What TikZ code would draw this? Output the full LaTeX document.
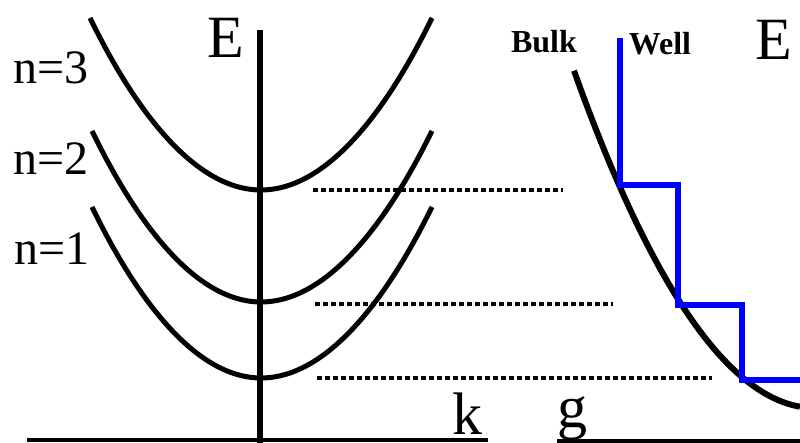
\documentclass[tikz,border=0pt]{standalone}
\usepackage{fontspec}
\setmainfont{Liberation Serif}
\begin{document}
\begin{tikzpicture}[x=0.5pt,y=-0.5pt,
    axis/.style={line width=3pt},
    baseline/.style={line width=2pt},
    band/.style={line width=2.5pt},
    bulkcurve/.style={line width=3pt},
    level/.style={line width=2pt,dash pattern=on 2.5pt off 1.5pt},
    well/.style={line width=3pt,blue},
    big/.style={font=\fontsize{30}{30}\selectfont,inner sep=0pt,anchor=base},
    quantum/.style={font=\fontsize{24}{24}\selectfont,inner sep=0pt,anchor=base},
    tag/.style={font=\fontsize{16}{16}\selectfont\bfseries,inner sep=0pt,anchor=base}]

  \useasboundingbox (0,0) rectangle (800,443);

  % --- axes: E up the middle, k and g along the bottom ---
  \draw[axis] (260,30) -- (260,443);
  \draw[baseline] (27,440) -- (488,440);
  \draw[baseline] (557,441) -- (800,441);

  % --- the three subbands n=1,2,3 ---
  \draw[band] (90,18)  parabola bend (261,190) (432,18);
  \draw[band] (92,131) parabola bend (261,302) (432,131);
  \draw[band] (92,207) parabola bend (261,378) (432,207);

  % --- band edges carried over to the density of states ---
  \draw[level] (313,190) -- (563,190);
  \draw[level] (315,304) -- (613,304);
  \draw[level] (317,378) -- (712,378);

  % --- bulk density of states and the staircase of the well ---
  \draw[bulkcurve] plot[domain=574:800,samples=60] (\x,{408-((\x-815)*0.0762)^2});
  \draw[well] (620,38) |- (678,185) |- (742,305) |- (800,380);

  % --- lettering ---
  \node[big]     (eleft)  at (226,58)  {E};
  \node[big]     (eright) at (774,60)  {E};
  \node[big]     (klab)   at (467,435) {k};
  \node[big]     (glab)   at (572,428) {g};
  \node[quantum] (nthree) at (51,84)   {n=3};
  \node[quantum] (ntwo)   at (51,175)  {n=2};
  \node[quantum] (none)   at (52,265)  {n=1};
  \node[tag]     (bulk)   at (544,53)  {Bulk};
  \node[tag]     (well)   at (660,55)  {Well};
\end{tikzpicture}
\end{document}
